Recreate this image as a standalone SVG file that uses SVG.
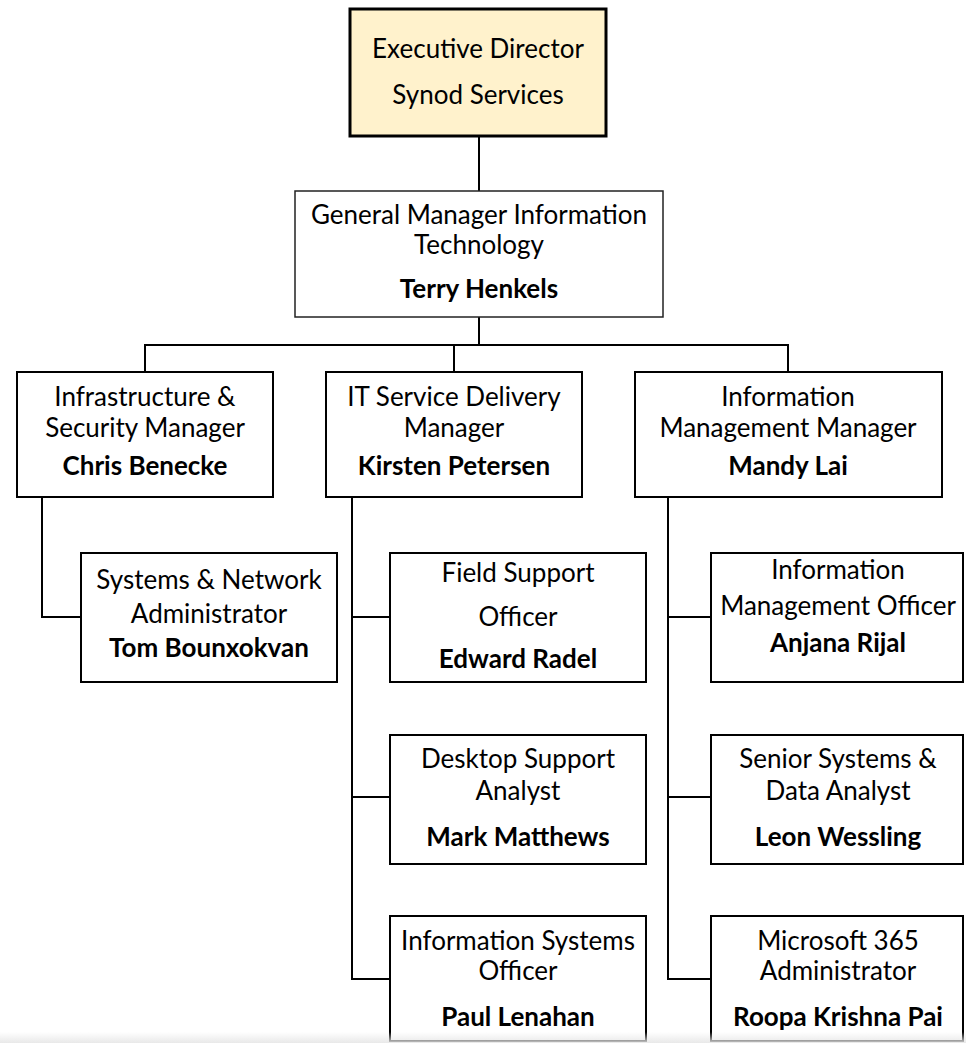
<svg xmlns="http://www.w3.org/2000/svg" width="966" height="1043" viewBox="0 0 966 1043">
<defs>
<style>
.box{fill:#ffffff;stroke:#000000;stroke-width:2}
.top{fill:#fff2cc;stroke:#000000;stroke-width:3}
.gm{fill:#ffffff;stroke:#222222;stroke-width:1.5}
.t{font-family:Lato,"Liberation Sans",sans-serif;font-size:26px;fill:#000000;text-anchor:middle}
.b{font-weight:bold}
.c{fill:none;stroke:#000000;stroke-width:2}
</style>
<linearGradient id="fade" x1="0" y1="0" x2="0" y2="1">
<stop offset="0" stop-color="#e6e6e6" stop-opacity="0"/>
<stop offset="1" stop-color="#e6e6e6" stop-opacity="0.9"/>
</linearGradient>
</defs>
<rect x="0" y="0" width="966" height="1043" fill="#ffffff"/>
<g id="connectors">
<path class="c" d="M479 136V191"/>
<path class="c" d="M479 317V345M145 372V345H788V372M454 345V372"/>
<path class="c" d="M42 497V617H81"/>
<path class="c" d="M352 497V979H390M352 617H390M352 797H390"/>
<path class="c" d="M668 497V979H711M668 617H711M668 797H711"/>
</g>
<g id="exec">
<rect class="top" x="350" y="9" width="256" height="127"/>
<text class="t" x="478" y="58">Executive Director</text>
<text class="t" x="478" y="104">Synod Services</text>
</g>
<g id="gm">
<rect class="gm" x="295" y="191" width="368" height="126"/>
<text class="t" x="479" y="224">General Manager Information</text>
<text class="t" x="479" y="254">Technology</text>
<text class="t b" x="479" y="298">Terry Henkels</text>
</g>
<g id="infra">
<rect class="box" x="17" y="372" width="256" height="125"/>
<text class="t" x="145" y="406">Infrastructure &amp;</text>
<text class="t" x="145" y="437">Security Manager</text>
<text class="t b" x="145" y="475">Chris Benecke</text>
</g>
<g id="itsd">
<rect class="box" x="326" y="372" width="256" height="125"/>
<text class="t" x="454" y="406">IT Service Delivery</text>
<text class="t" x="454" y="437">Manager</text>
<text class="t b" x="454" y="475">Kirsten Petersen</text>
</g>
<g id="imm">
<rect class="box" x="635" y="372" width="307" height="125"/>
<text class="t" x="788" y="406">Information</text>
<text class="t" x="788" y="437">Management Manager</text>
<text class="t b" x="788" y="475">Mandy Lai</text>
</g>
<g id="sna">
<rect class="box" x="81" y="553" width="256" height="129"/>
<text class="t" x="209" y="589">Systems &amp; Network</text>
<text class="t" x="209" y="623">Administrator</text>
<text class="t b" x="209" y="657">Tom Bounxokvan</text>
</g>
<g id="fso">
<rect class="box" x="390" y="553" width="256" height="129"/>
<text class="t" x="518" y="582">Field Support</text>
<text class="t" x="518" y="626">Officer</text>
<text class="t b" x="518" y="668">Edward Radel</text>
</g>
<g id="dsa">
<rect class="box" x="390" y="735" width="256" height="129"/>
<text class="t" x="518" y="768">Desktop Support</text>
<text class="t" x="518" y="800">Analyst</text>
<text class="t b" x="518" y="846">Mark Matthews</text>
</g>
<g id="iso">
<rect class="box" x="390" y="916" width="256" height="125"/>
<text class="t" x="518" y="950">Information Systems</text>
<text class="t" x="518" y="980">Officer</text>
<text class="t b" x="518" y="1026">Paul Lenahan</text>
</g>
<g id="imo">
<rect class="box" x="711" y="553" width="252" height="129"/>
<text class="t" x="838" y="579">Information</text>
<text class="t" x="838" y="615">Management Officer</text>
<text class="t b" x="838" y="652">Anjana Rijal</text>
</g>
<g id="ssda">
<rect class="box" x="711" y="735" width="252" height="129"/>
<text class="t" x="838" y="768">Senior Systems &amp;</text>
<text class="t" x="838" y="800">Data Analyst</text>
<text class="t b" x="838" y="846">Leon Wessling</text>
</g>
<g id="m365">
<rect class="box" x="711" y="916" width="252" height="125"/>
<text class="t" x="838" y="950">Microsoft 365</text>
<text class="t" x="838" y="980">Administrator</text>
<text class="t b" x="838" y="1026">Roopa Krishna Pai</text>
</g>
<rect x="0" y="1032" width="966" height="11" fill="url(#fade)"/>
</svg>
